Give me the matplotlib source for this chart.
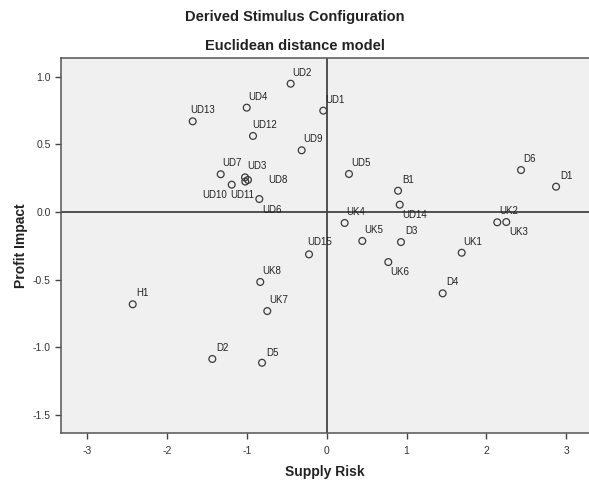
import matplotlib
matplotlib.use("Agg")
import matplotlib.pyplot as plt

plt.rcParams['font.family'] = ['Liberation Sans', 'DejaVu Sans']

# stimulus coordinates (dimension 1 = supply risk, dimension 2 = profit impact)
names = ['UD2', 'UD1', 'UD4', 'UD13', 'UD12', 'UD9', 'UD7', 'UD3', 'UD8', 'UD11',
         'UD10', 'UD6', 'UD5', 'B1', 'UD14', 'D6', 'D1', 'UK2', 'UK3', 'UK4',
         'UK5', 'D3', 'UD15', 'UK6', 'UK1', 'D4', 'UK8', 'H1', 'UK7', 'D2', 'D5']
supply_risk = [-0.453, -0.044, -1.004, -1.681, -0.925, -0.315, -1.330, -1.025, -0.988, -1.022,
               -1.192, -0.846, 0.278, 0.893, 0.914, 2.435, 2.874, 2.137, 2.250, 0.224,
               0.445, 0.930, -0.223, 0.771, 1.691, 1.453, -0.834, -2.433, -0.746, -1.435, -0.812]
profit_impact = [0.948, 0.749, 0.771, 0.670, 0.562, 0.456, 0.279, 0.256, 0.237, 0.225,
                 0.202, 0.096, 0.281, 0.157, 0.054, 0.310, 0.187, -0.076, -0.074, -0.081,
                 -0.214, -0.222, -0.313, -0.370, -0.301, -0.601, -0.517, -0.682, -0.732, -1.086, -1.114]

x_ticks = [-3, -2, -1, 0, 1, 2, 3]
y_ticks = [-1.5, -1.0, -0.5, 0.0, 0.5, 1.0]

# label placement (pixel offsets from the marker: left edge, vertical centre)
default_off = (2, 11)
label_off = {
    'UD13': (-2, 11), 'UD12': (-1, 11), 'UD8': (20, 0), 'UD11': (-15, -13),
    'UD10': (-29, -10), 'UD6': (3, -11), 'UD14': (3, -10), 'UK3': (3, -10),
    'UD15': (-2, 12), 'UK6': (2, -10), 'D3': (4, 11), 'B1': (4, 11),
    'D1': (4, 11), 'D4': (4, 11), 'H1': (4, 11), 'D2': (4, 11), 'D5': (4, 10),
}

fig = plt.figure(figsize=(5.89, 4.80), dpi=100)
ax = fig.add_axes([61 / 589, 47 / 480, 528 / 589, 375 / 480])
ax.set_facecolor('#f0f0f0')

ax.axhline(0, color='#444444', lw=1.3, zorder=1)
ax.axvline(0, color='#444444', lw=1.3, zorder=1)

ax.scatter(supply_risk, profit_impact, s=24, facecolors='none',
           edgecolors='#3a3a3a', linewidths=0.9, zorder=3)

for name, xv, yv in zip(names, supply_risk, profit_impact):
    dx, dy = label_off.get(name, default_off)
    ax.annotate(name, (xv, yv), xytext=(dx, dy), textcoords='offset pixels',
                ha='left', va='center', fontsize=7, color='#222222', zorder=4)

ax.set_xlim(-3.332, 3.287)
ax.set_ylim(-1.633, 1.138)
ax.set_xticks(x_ticks)
ax.set_xticklabels([str(t) for t in x_ticks])
ax.set_yticks(y_ticks)
ax.set_yticklabels([f'{t:.1f}' for t in y_ticks])
ax.tick_params(direction='out', length=4, width=1.0, color='#444444',
               labelsize=7.5, labelcolor='#333333')
ax.tick_params(axis='x', pad=5)

for side in ['left', 'bottom', 'top']:
    ax.spines[side].set_color('#555555')
    ax.spines[side].set_linewidth(1.1)
ax.spines['right'].set_visible(False)

ax.set_xlabel('Supply Risk', fontsize=10, fontweight='bold', color='#222222', labelpad=7)
ax.set_ylabel('Profit Impact', fontsize=10, fontweight='bold', color='#222222', labelpad=3)

fig.text(0.5, 1 - 17 / 480, 'Derived Stimulus Configuration', ha='center', va='center',
         fontsize=10.5, fontweight='bold', color='#222222')
fig.text(0.5, 1 - 46 / 480, 'Euclidean distance model', ha='center', va='center',
         fontsize=10.5, fontweight='bold', color='#222222')

fig.savefig('out.png', dpi=100)
